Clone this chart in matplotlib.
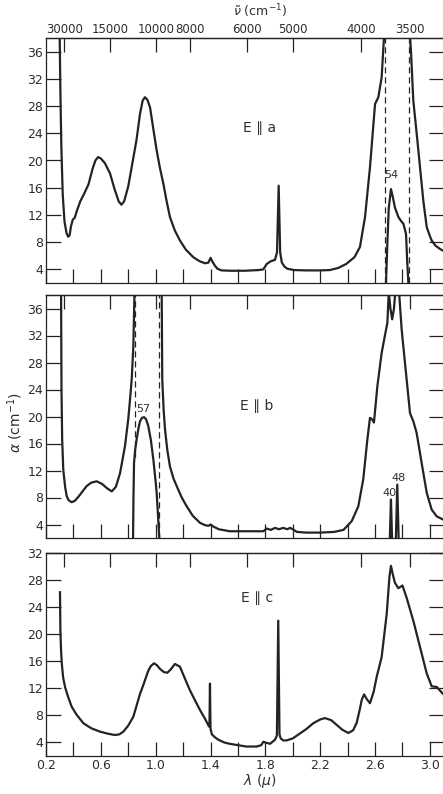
import numpy as np
import matplotlib
matplotlib.use("Agg")
import matplotlib.pyplot as plt

# ---- data (lambda in micron, alpha in cm^-1) ----

# E || a, thick sample
lam_a1 = [0.300, 0.305, 0.312, 0.322, 0.335, 0.350, 0.362, 0.372, 0.382, 0.395,
          0.410, 0.425, 0.45, 0.48, 0.51, 0.54, 0.56, 0.58, 0.60, 0.63,
          0.667, 0.70, 0.73, 0.75, 0.77, 0.80, 0.83, 0.86, 0.886, 0.905,
          0.922, 0.94, 0.959, 0.98, 1.007, 1.03, 1.056, 1.08, 1.104, 1.14,
          1.177, 1.22, 1.274, 1.32, 1.36, 1.385, 1.40, 1.415, 1.43, 1.45,
          1.48, 1.55, 1.65, 1.75, 1.785, 1.81, 1.84, 1.87, 1.885, 1.897,
          1.908, 1.92, 1.94, 1.96, 2.01, 2.1, 2.2, 2.27, 2.33, 2.39,
          2.45, 2.49, 2.527, 2.563, 2.6, 2.624, 2.648, 2.665]
alpha_a1 = [38, 30, 22, 15, 11, 9.3, 8.8, 9.0, 10.3, 11.3,
            11.6, 12.6, 14.0, 15.2, 16.5, 18.8, 20.0, 20.5, 20.3, 19.6,
            18.1, 15.8, 14.0, 13.5, 14.0, 16.2, 19.6, 23.0, 26.9, 28.8,
            29.3, 28.9, 27.8, 25.0, 21.5, 19.0, 16.6, 14.0, 11.7, 9.7,
            8.25, 6.9, 5.8, 5.2, 4.9, 5.0, 5.7, 5.1, 4.6, 4.1,
            3.85, 3.8, 3.8, 3.9, 4.0, 4.8, 5.2, 5.4, 6.5, 16.3,
            6.5, 5.0, 4.4, 4.1, 3.9, 3.85, 3.85, 3.9, 4.2, 4.8,
            5.8, 7.3, 11.7, 19.0, 28.3, 29.3, 32.2, 38]
lam_a2 = [2.855, 2.862, 2.879, 2.904, 2.928, 2.952, 2.977, 3.0, 3.013, 3.04, 3.074, 3.1]
alpha_a2 = [38, 36.1, 28.8, 23.9, 19.0, 14.1, 10.2, 8.9, 8.25, 7.5, 7.0, 6.7]
# E || a, thin sample (54)
lam_a54 = [2.680, 2.69, 2.70, 2.716, 2.73, 2.745, 2.77, 2.79, 2.807, 2.826, 2.835, 2.843]
alpha_a54 = [2, 8, 13, 15.8, 14.6, 13.1, 11.7, 11.1, 10.7, 9.2, 5, 2]
dash_a = [2.672, 2.85]

# E || b, thick sample
lam_b1 = [0.310, 0.313, 0.318, 0.326, 0.340, 0.351, 0.365, 0.387, 0.41, 0.44,
          0.47, 0.497, 0.53, 0.57, 0.61, 0.643, 0.68, 0.71, 0.74, 0.776,
          0.80, 0.815, 0.825, 0.837, 0.845]
alpha_b1 = [38, 24, 16.6, 12.1, 9.5, 8.2, 7.6, 7.3, 7.5, 8.2,
            9.0, 9.7, 10.2, 10.4, 10.0, 9.4, 8.9, 9.6, 11.6, 15.6,
            19.6, 23, 25.5, 30.4, 38]
lam_b2 = [1.044, 1.048, 1.058, 1.068, 1.085, 1.104, 1.13, 1.153, 1.19, 1.226,
          1.27, 1.323, 1.36, 1.385, 1.40, 1.42, 1.46, 1.54, 1.65, 1.785,
          1.81, 1.84, 1.87, 1.9, 1.93, 1.96, 1.98, 2.0, 2.03, 2.1,
          2.2, 2.3, 2.37, 2.43, 2.478, 2.514, 2.544, 2.563, 2.578, 2.592,
          2.617, 2.648, 2.673, 2.69, 2.700, 2.712, 2.725, 2.738, 2.748, 2.775,
          2.794, 2.818, 2.855, 2.879, 2.903, 2.94, 2.977, 3.013, 3.05, 3.1]
alpha_b2 = [38, 25.5, 21, 18.1, 15, 12.6, 10.8, 9.7, 8.0, 6.7,
            5.3, 4.25, 3.9, 3.8, 4.0, 3.7, 3.3, 3.0, 3.0, 3.0,
            3.4, 3.2, 3.5, 3.3, 3.5, 3.3, 3.5, 3.3, 2.9, 2.8,
            2.8, 2.9, 3.2, 4.5, 6.7, 10.7, 16.6, 19.8, 19.6, 19.1,
            24.5, 29.4, 32.1, 33.9, 38.5, 36, 34.4, 36, 38.5, 38.5,
            32.9, 28, 20.5, 19.3, 17.6, 13.1, 8.7, 6.2, 5.2, 4.7]
# E || b, thin samples (57, 40, 48)
lam_b57 = [0.835, 0.838, 0.842, 0.85, 0.861, 0.875, 0.886, 0.90, 0.915, 0.93,
           0.946, 0.965, 0.983, 1.0, 1.007, 1.018, 1.026]
alpha_b57 = [2, 8, 13.1, 15, 16.6, 18.3, 19.3, 19.8, 19.9, 19.6,
             18.6, 16.5, 13.6, 10.3, 8.7, 5, 2]
lam_b40 = [2.708, 2.716, 2.724]
alpha_b40 = [2, 7.7, 2]
lam_b48 = [2.752, 2.762, 2.772]
alpha_b48 = [2, 9.9, 2]
dash_b_left = 0.852
dash_b_right = 1.022

# E || c
lam_c = [0.302, 0.305, 0.31, 0.315, 0.325, 0.339, 0.36, 0.387, 0.42, 0.472,
         0.53, 0.594, 0.65, 0.703, 0.735, 0.764, 0.80, 0.837, 0.886, 0.91,
         0.946, 0.965, 0.988, 1.01, 1.03, 1.06, 1.085, 1.11, 1.14, 1.177,
         1.21, 1.25, 1.29, 1.323, 1.36, 1.385, 1.392, 1.396, 1.40, 1.41,
         1.43, 1.457, 1.50, 1.54, 1.60, 1.66, 1.737, 1.77, 1.785, 1.80,
         1.834, 1.87, 1.884, 1.894, 1.903, 1.912, 1.93, 1.955, 2.0, 2.05,
         2.1, 2.15, 2.2, 2.235, 2.28, 2.32, 2.36, 2.405, 2.44, 2.466,
         2.49, 2.503, 2.52, 2.54, 2.563, 2.59, 2.612, 2.648, 2.685, 2.705,
         2.716, 2.73, 2.745, 2.77, 2.8, 2.83, 2.879, 2.928, 2.977, 3.013,
         3.05, 3.09, 3.1]
alpha_c = [26.2, 20.5, 17.5, 15.7, 13.6, 12.2, 10.8, 9.3, 8.2, 6.85,
           6.1, 5.6, 5.3, 5.1, 5.2, 5.6, 6.5, 7.8, 11.2, 12.5,
           14.6, 15.3, 15.7, 15.4, 14.9, 14.4, 14.3, 14.8, 15.6, 15.2,
           13.6, 11.7, 10.1, 8.8, 7.5, 6.5, 6.3, 12.7, 6.0, 5.2,
           4.8, 4.4, 4.0, 3.8, 3.6, 3.4, 3.4, 3.6, 4.1, 4.0,
           3.8, 4.4, 5.0, 22.0, 5.2, 4.6, 4.3, 4.3, 4.6, 5.3,
           6.0, 6.85, 7.4, 7.6, 7.3, 6.6, 5.9, 5.4, 5.8, 6.9,
           9.0, 10.3, 11.1, 10.4, 9.8, 11.5, 13.7, 16.6, 23.0, 28.5,
           30.1, 28.8, 27.6, 26.8, 27.2, 25.4, 22.0, 18.1, 14.2, 12.3,
           12.2, 11.3, 11.1]

# axis ticks
x_ticks = [0.2, 0.4, 0.6, 0.8, 1.0, 1.2, 1.4, 1.6, 1.8, 2.0, 2.2, 2.4, 2.6, 2.8, 3.0]
x_labels = ['0.2', '', '0.6', '', '1.0', '', '1.4', '', '1.8', '', '2.2', '', '2.6', '', '3.0']
wn_ticks = [30000, 15000, 10000, 8000, 6000, 5000, 4000, 3500]
y_ticks_ab = [4, 8, 12, 16, 20, 24, 28, 32, 36]
y_ticks_c = [4, 8, 12, 16, 20, 24, 28, 32]

LINE = '#232323'
TXT = '#2e2e2e'
LW = 1.6


def to_wn(x):
    x = np.asarray(x, dtype=float)
    with np.errstate(divide='ignore', invalid='ignore'):
        return 1e4 / x


def style_axis(ax, ylim, yticks, top_labels, bottom_labels):
    ax.set_xlim(0.2, 3.1)
    ax.set_ylim(*ylim)
    ax.set_yticks(yticks)
    ax.set_xticks(x_ticks)
    ax.set_xticklabels(x_labels if bottom_labels else [''] * len(x_ticks))
    ax.tick_params(axis='y', direction='in', length=11, width=0.9, left=True, right=True,
                   labelsize=9, pad=2, colors=LINE, labelcolor=TXT)
    ax.tick_params(axis='x', direction='in', length=10, width=0.9, top=False,
                   labelsize=9, pad=2, colors=LINE, labelcolor=TXT)
    for side in ['left', 'top', 'bottom']:
        ax.spines[side].set_linewidth(0.9)
        ax.spines[side].set_color(LINE)
    ax.spines['right'].set_visible(False)
    # wavenumber ticks along the top
    sec = ax.secondary_xaxis('top', functions=(to_wn, to_wn))
    sec.set_xticks(wn_ticks)
    sec.set_xticklabels([str(w) for w in wn_ticks] if top_labels else [''] * len(wn_ticks))
    sec.tick_params(direction='in', length=10, width=0.9, labelsize=8.5, pad=1.5,
                    colors=LINE, labelcolor=TXT)
    sec.spines['top'].set_linewidth(0.9)
    sec.spines['top'].set_color(LINE)


fig = plt.figure(figsize=(4.43, 7.94), dpi=100)
W, H = 443.0, 794.0
left = 46 / W
width = 397.6 / W
ax1 = fig.add_axes([left, 1 - 283 / H, width, 245 / H])
ax2 = fig.add_axes([left, 1 - 538 / H, width, 243 / H])
ax3 = fig.add_axes([left, 1 - 756 / H, width, 203 / H])

dash = (0, (5, 3))

# panel E || a
ax1.plot(lam_a1, alpha_a1, color=LINE, lw=LW)
ax1.plot(lam_a2, alpha_a2, color=LINE, lw=LW)
ax1.plot(lam_a54, alpha_a54, color=LINE, lw=LW)
for d in dash_a:
    ax1.axvline(d, color=LINE, lw=0.9, ls=dash)
ax1.text(2.72, 17.2, '54', fontsize=8, color=TXT, ha='center', va='bottom')
ax1.text(1.76, 24.8, 'E \u2225 a', fontsize=10, color=TXT, ha='center', va='center')
style_axis(ax1, (2, 38), y_ticks_ab, True, False)

# panel E || b
ax2.plot(lam_b1, alpha_b1, color=LINE, lw=LW)
ax2.plot(lam_b2, alpha_b2, color=LINE, lw=LW)
ax2.plot(lam_b57, alpha_b57, color=LINE, lw=LW)
ax2.plot(lam_b40, alpha_b40, color=LINE, lw=LW)
ax2.plot(lam_b48, alpha_b48, color=LINE, lw=LW)
ax2.plot([dash_b_left, dash_b_left], [14, 38], color=LINE, lw=0.9, ls=dash)
ax2.axvline(dash_b_right, color=LINE, lw=0.9, ls=dash)
ax2.text(0.91, 20.4, '57', fontsize=8, color=TXT, ha='center', va='bottom')
ax2.text(2.705, 8.7, '40', fontsize=8, color=TXT, ha='center', va='center')
ax2.text(2.775, 10.9, '48', fontsize=8, color=TXT, ha='center', va='center')
ax2.text(1.74, 21.6, 'E \u2225 b', fontsize=10, color=TXT, ha='center', va='center')
style_axis(ax2, (2, 38), y_ticks_ab, False, False)

# panel E || c
ax3.plot(lam_c, alpha_c, color=LINE, lw=LW)
ax3.text(1.74, 25.4, 'E \u2225 c', fontsize=10, color=TXT, ha='center', va='center')
style_axis(ax3, (2, 32), y_ticks_c, False, True)

# axis titles
fig.text(260 / W, 1 - 11 / H, r'$\tilde{\nu}$ (cm$^{-1}$)', fontsize=9, color=TXT,
         ha='center', va='center')
fig.text(260 / W, 1 - 781 / H, r'$\lambda$ ($\mu$)', fontsize=10, color=TXT,
         ha='center', va='center')
fig.text(15 / W, 1 - 422 / H, r'$\alpha$ (cm$^{-1}$)', fontsize=10, color=TXT,
         ha='center', va='center', rotation=90)

fig.savefig('out.png', dpi=100)
